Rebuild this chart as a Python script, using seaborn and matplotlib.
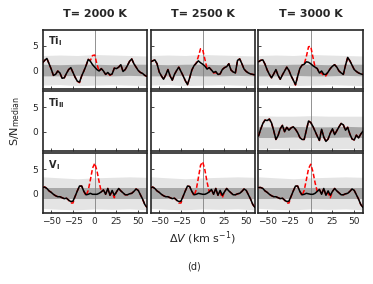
import numpy as np
import pandas as pd
import seaborn as sns
import matplotlib.pyplot as plt

sns.set_style('ticks')
plt.rcParams['font.family'] = ['DejaVu Sans']

# radial velocity grid (km/s)
dv = np.arange(-60, 60.1, 2.5)

temps = ['T= 2000 K', 'T= 2500 K', 'T= 3000 K']
species = [r'$\mathbf{Ti_{I}}$', r'$\mathbf{Ti_{II}}$', r'$\mathbf{V_{\,I}}$']

# Ti I, observed (black) and injected (red dashed)
ti1_2000_obs = [1.5, 2.0, 2.4, 1.3, 0.2, -1.1, -0.9, -0.2, -0.6, -1.7, -1.6, -0.7, 0.1, 0.5, -0.5, -1.5,
                -2.3, -2.5, -1.2, -0.2, 0.9, 2.2, 1.8, 1.1, 0.6, 0.1, -0.2, 0.3, -0.2, -0.9, -0.5, -1.0,
                -0.8, 0.4, 0.3, 0.6, 1.1, -0.3, 0.1, 0.9, 1.8, 2.3, 1.3, 0.6, -0.1, -0.5, -0.7, -1.1, -1.3]
ti1_2000_inj = [1.5, 2.0, 2.4, 1.3, 0.2, -1.1, -0.9, -0.2, -0.6, -1.7, -1.6, -0.7, 0.1, 0.5, -0.5, -1.5,
                -2.3, -2.6, -1.2, -0.2, 0.9, 2.2, 2.0, 3.0, 3.1, 1.2, -0.2, 0.3, -0.2, -0.9, -0.6, -1.1,
                -0.8, 0.4, 0.3, 0.6, 1.1, -0.3, 0.1, 0.9, 1.8, 2.3, 1.3, 0.6, -0.1, -0.5, -0.7, -1.1, -1.3]
ti1_2500_obs = [1.7, 1.9, 2.1, 1.3, -0.4, -1.2, -1.9, -1.0, 0.1, -1.2, -2.1, -0.9, -0.1, 0.6, -0.3, -1.2,
                -2.2, -3.0, -1.6, 0.0, 0.9, 1.4, 1.9, 1.5, 1.2, 0.8, 0.2, 0.5, 0.0, -0.5, -0.3, -0.9,
                -0.8, 0.1, 0.5, 0.7, 1.3, 0.0, -0.4, -0.6, 2.0, 2.3, 1.3, 0.2, -0.3, -0.6, -0.8, -0.9, -1.0]
ti1_2500_inj = [1.7, 1.9, 2.1, 1.3, -0.4, -1.2, -1.9, -1.0, 0.1, -1.2, -2.1, -0.9, -0.1, 0.6, -0.3, -1.2,
                -2.2, -3.0, -1.6, 0.0, 0.9, 1.4, 2.8, 4.4, 4.2, 2.2, 0.3, 0.5, 0.0, -0.6, -0.5, -1.0,
                -0.8, 0.1, 0.5, 0.7, 1.3, 0.0, -0.4, -0.6, 2.0, 2.3, 1.3, 0.2, -0.3, -0.6, -0.8, -0.9, -1.0]
ti1_3000_obs = [1.7, 2.0, 2.1, 1.2, 0.0, -0.9, -1.6, -0.8, 0.1, -1.1, -1.9, -1.0, -0.2, 0.6, -0.1, -1.2,
                -2.1, -3.0, -1.3, 0.3, 1.0, 1.2, 1.7, 1.6, 1.3, 0.9, 0.6, 0.3, -0.6, -0.2, -0.9, -0.9,
                -0.4, 0.3, 0.8, 1.1, 0.6, -0.2, -0.6, -0.9, 1.0, 2.6, 1.9, 1.0, 0.1, -0.3, -0.6, -0.8, -0.9]
ti1_3000_inj = [1.7, 2.0, 2.1, 1.2, 0.0, -0.9, -1.6, -0.8, 0.1, -1.1, -1.9, -1.0, -0.2, 0.6, -0.1, -1.2,
                -2.1, -3.1, -1.3, 0.3, 1.0, 1.2, 2.8, 4.8, 4.9, 2.7, 0.6, 0.3, -0.6, -0.6, -1.2, -1.2,
                -0.4, 0.3, 0.8, 1.1, 0.6, -0.2, -0.6, -0.9, 1.0, 2.6, 1.9, 1.0, 0.1, -0.3, -0.6, -0.8, -0.9]

# Ti II, only the 3000 K template has a signal
ti2_3000_obs = [-0.9, 0.5, 1.7, 2.4, 2.3, 2.6, 1.8, 0.2, -1.6, -0.8, 0.6, 1.3, 0.0, 0.9, 0.3, 0.8,
                1.0, 0.5, -0.2, -1.2, -1.6, -1.6, 0.3, 2.2, 1.9, 1.1, 0.1, -0.9, -1.8, 0.5, -1.1, -2.0,
                -1.5, -0.3, 0.6, -0.6, 0.2, 1.0, 1.7, 1.4, 0.3, 0.9, -0.5, -1.5, -1.7, -0.7, -1.3, -0.5, 0.1]
ti2_3000_inj = ti2_3000_obs

# V I
v1_2000_obs = [1.2, 1.3, 1.0, 0.5, 0.2, -0.2, -0.5, -0.7, -0.7, -0.9, -1.1, -1.0, -1.4, -1.7, -1.6, -0.6,
               0.5, 1.5, 1.5, 0.4, -0.3, -0.2, 0.0, -0.2, -0.2, -0.2, 0.0, 0.3, 0.7, -0.2, 1.0, -0.4,
               0.6, -0.4, 0.3, 1.0, 0.5, 0.1, -0.3, -0.3, -0.1, 0.0, 0.4, 0.9, 0.6, -0.3, -1.2, -2.3, -2.9]
v1_2000_inj = [1.2, 1.3, 1.0, 0.5, 0.2, -0.2, -0.5, -0.7, -0.7, -0.9, -1.1, -1.0, -1.4, -2.0, -2.0, -0.6,
               0.5, 1.5, 1.5, 0.4, -0.5, 0.6, 2.8, 5.2, 6.2, 4.7, 2.4, 0.3, 0.7, -0.2, 1.0, -0.4,
               0.2, -0.9, 0.3, 1.0, 0.5, 0.1, -0.3, -0.3, -0.1, 0.0, 0.4, 0.9, 0.6, -0.3, -1.2, -2.3, -2.9]
v1_2500_obs = [1.1, 1.3, 1.0, 0.5, 0.2, -0.2, -0.5, -0.7, -0.7, -0.9, -1.1, -1.0, -1.4, -1.7, -1.6, -0.6,
               0.5, 1.5, 1.4, 0.4, -0.3, -0.2, 0.0, -0.1, -0.2, -0.2, 0.0, 0.3, 0.8, -0.2, 1.0, -0.4,
               0.6, -0.4, 0.3, 1.0, 0.5, 0.1, -0.3, -0.3, -0.1, 0.0, 0.4, 0.9, 0.6, -0.3, -1.2, -2.3, -2.9]
v1_2500_inj = [1.1, 1.3, 1.0, 0.5, 0.2, -0.2, -0.5, -0.7, -0.7, -0.9, -1.1, -1.0, -1.4, -2.0, -2.0, -0.6,
               0.5, 1.5, 1.4, 0.4, -0.5, 0.7, 3.2, 5.8, 6.5, 4.8, 2.3, 0.3, 0.8, -0.2, 1.0, -0.4,
               0.2, -0.9, 0.3, 1.0, 0.5, 0.1, -0.3, -0.3, -0.1, 0.0, 0.4, 0.9, 0.6, -0.3, -1.2, -2.3, -2.9]
v1_3000_obs = [1.2, 1.2, 1.0, 0.5, 0.2, -0.2, -0.5, -0.7, -0.7, -0.9, -1.1, -1.0, -1.4, -1.7, -1.6, -0.6,
               0.5, 1.5, 1.5, 0.4, -0.3, -0.2, 0.0, -0.1, -0.2, -0.2, 0.0, 0.4, 0.8, -0.2, 1.0, -0.4,
               0.5, -0.4, 0.4, 1.0, 0.5, 0.1, -0.3, -0.3, -0.1, 0.0, 0.4, 0.9, 0.6, -0.3, -1.2, -2.3, -2.9]
v1_3000_inj = [1.2, 1.2, 1.0, 0.5, 0.2, -0.2, -0.5, -0.7, -0.7, -0.9, -1.1, -1.0, -1.4, -2.0, -2.0, -0.6,
               0.5, 1.5, 1.5, 0.4, -0.5, 0.6, 2.8, 5.1, 6.0, 4.5, 2.2, 0.4, 0.8, -0.2, 1.0, -0.4,
               0.1, -0.9, 0.4, 1.0, 0.5, 0.1, -0.3, -0.3, -0.1, 0.0, 0.4, 0.9, 0.6, -0.3, -1.2, -2.3, -2.9]

# noise bands (1 and 3 sigma envelopes) on a coarse grid
band_v = [-60, -40, -20, 0, 20, 40, 60]
ti1_light_hi = [3.0, 3.1, 3.0, 3.2, 3.1, 3.0, 2.9]
ti1_light_lo = [-3.1, -3.0, -3.2, -3.1, -3.0, -3.1, -3.2]
ti1_dark_hi = [1.2, 1.1, 1.2, 1.2, 1.1, 1.2, 1.2]
ti1_dark_lo = [-1.2, -1.2, -1.1, -1.2, -1.2, -1.1, -1.2]
ti2_light_hi = [3.3, 3.2, 3.2, 3.3, 3.2, 3.2, 3.2]
ti2_light_lo = [-3.6, -3.5, -3.6, -3.5, -3.6, -3.5, -3.6]
ti2_dark_hi = [1.0, 1.0, 1.1, 1.0, 1.0, 1.1, 1.0]
ti2_dark_lo = [-1.2, -1.2, -1.1, -1.2, -1.2, -1.1, -1.2]
v1_light_hi = [3.4, 3.2, 3.0, 3.2, 3.3, 3.4, 3.3]
v1_light_lo = [-3.1, -3.3, -3.4, -3.2, -3.3, -3.2, -3.4]
v1_dark_hi = [1.2, 1.2, 1.2, 1.2, 1.2, 1.2, 1.2]
v1_dark_lo = [-1.2, -1.2, -1.2, -1.2, -1.2, -1.2, -1.2]

obs = [[ti1_2000_obs, ti1_2500_obs, ti1_3000_obs],
       [None, None, ti2_3000_obs],
       [v1_2000_obs, v1_2500_obs, v1_3000_obs]]
inj = [[ti1_2000_inj, ti1_2500_inj, ti1_3000_inj],
       [None, None, ti2_3000_inj],
       [v1_2000_inj, v1_2500_inj, v1_3000_inj]]
bands = [(ti1_light_lo, ti1_light_hi, ti1_dark_lo, ti1_dark_hi),
         (ti2_light_lo, ti2_light_hi, ti2_dark_lo, ti2_dark_hi),
         (v1_light_lo, v1_light_hi, v1_dark_lo, v1_dark_hi)]

fig, axes = plt.subplots(3, 3, figsize=(3.73, 2.84), dpi=100, sharex=True, sharey=True)
fig.subplots_adjust(left=0.114, right=0.973, top=0.895, bottom=0.251, wspace=0.034, hspace=0.034)

for i in range(3):
    for j in range(3):
        ax = axes[i, j]
        if obs[i][j] is not None:
            llo, lhi, dlo, dhi = bands[i]
            ax.fill_between(band_v, llo, lhi, color='#e4e4e4', lw=0, zorder=0)
            ax.fill_between(band_v, dlo, dhi, color='#a8a8a8', lw=0, zorder=1)
            ax.axvline(0, color='#808080', lw=0.6, zorder=2)
            df = pd.DataFrame({'dv': dv, 'obs': obs[i][j], 'inj': inj[i][j]})
            sns.lineplot(data=df, x='dv', y='inj', ax=ax, color='red', lw=1.1,
                         linestyle=(0, (3, 1.5)), zorder=3)
            sns.lineplot(data=df, x='dv', y='obs', ax=ax, color='black', lw=1.1, zorder=4)
        ax.set_xlim(-60, 60)
        ax.set_ylim(-4, 8.3)
        ax.set_xlabel('')
        ax.set_ylabel('')
        ax.set_xticks([-50, -25, 0, 25, 50])
        ax.set_yticks([0, 5])
        ax.tick_params(direction='in', length=2, width=0.6, labelsize=6.5, pad=3)
        for s in ax.spines.values():
            s.set_linewidth(1.2)
        if i == 0:
            ax.set_title(temps[j], fontsize=8, fontweight='bold', pad=9)
        if j == 0:
            ax.text(0.05, 0.92, species[i], transform=ax.transAxes, fontsize=7,
                    va='top', ha='left')

fig.text(0.04, 0.575, r'S/N$_{\rm median}$', rotation=90, fontsize=8, va='center', ha='center')
fig.text(0.543, 0.163, r'$\Delta V$ (km s$^{-1}$)', fontsize=8, va='center', ha='center')
fig.text(0.52, 0.061, '(d)', fontsize=7, va='center', ha='center')

fig.savefig('out.png', dpi=100)
